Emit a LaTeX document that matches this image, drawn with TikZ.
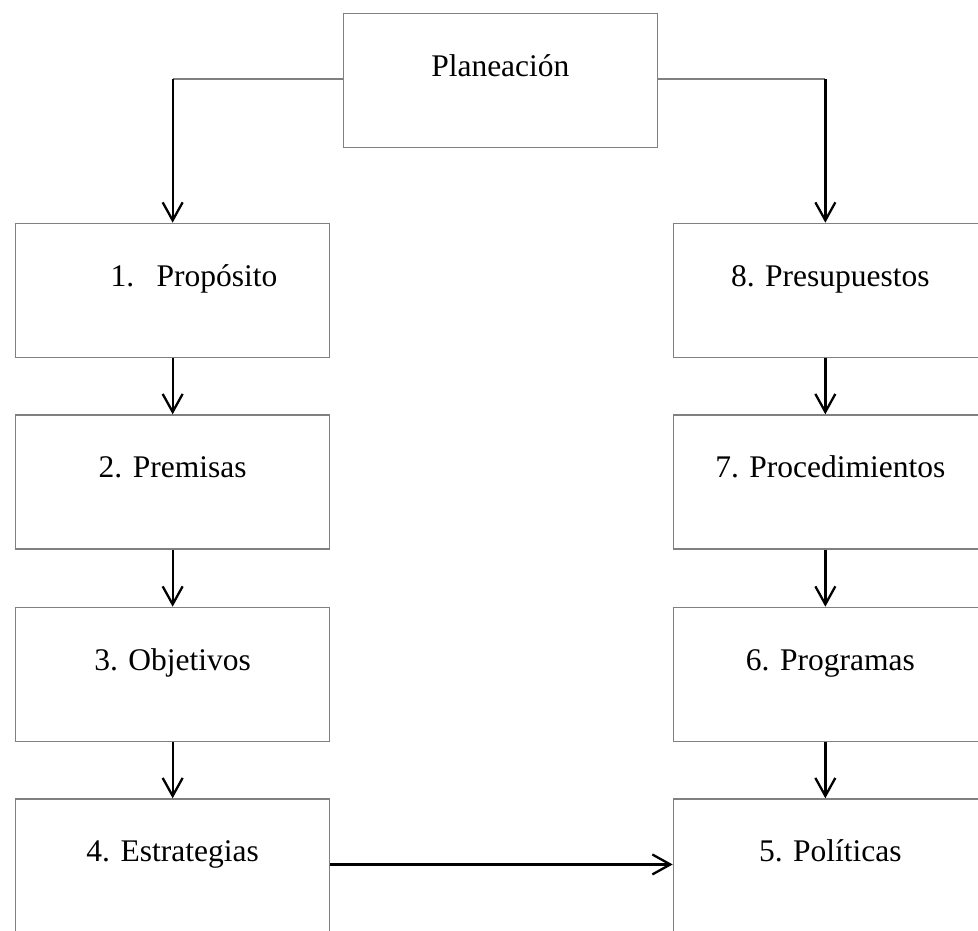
\documentclass[tikz,border=0pt]{standalone}
\usepackage{fontspec}
\setmainfont{Liberation Serif}
\usetikzlibrary{arrows.meta}
\begin{document}
\begin{tikzpicture}[x=1pt,y=-1pt,
  stepbox/.style={draw=black!50, line width=1.3pt, rectangle, inner sep=0pt,
    minimum width=314pt, text height=63pt, text depth=71pt,
    font=\fontsize{31.5}{36}\selectfont, anchor=north west},
  link/.style={draw=black!50, line width=1.3pt},
  arr/.style={draw=black, line width=2.3pt,
    -{Straight Barb[length=18pt,width=20pt,line width=2.3pt]}}]
\clip (0,0) rectangle (978,931);
\useasboundingbox (0,0) rectangle (978,931);

% top box
\node[stepbox] (plan) at (342.7,12.7) {Planeación};

% left column
\node[stepbox] (b1) at (15,222.7) {\hspace*{42.8pt}\makebox[46pt][l]{1.}Propósito};
\node[stepbox] (b2) at (15,414.3) {2. Premisas};
\node[stepbox] (b3) at (15,606.7) {3. Objetivos};
\node[stepbox] (b4) at (15,798.3) {4. Estrategias};

% right column
\node[stepbox] (b8) at (672.7,222.7) {8. Presupuestos};
\node[stepbox] (b7) at (672.7,414.3) {7. Procedimientos};
\node[stepbox] (b6) at (672.7,606.7) {6. Programas};
\node[stepbox] (b5) at (672.7,798.3) {5. Políticas};

% elbow connectors from the top box
\coordinate (cl) at ([yshift=1.3pt]plan.west -| b1.north);
\coordinate (cr) at ([yshift=1.3pt,xshift=-5pt]plan.east -| b8.north);
\draw[link] ([yshift=1.3pt]plan.west) -- (cl);
\draw[arr] (cl) -- (b1.north);
\draw[link] ([yshift=1.3pt]plan.east) -- (cr);
\draw[arr] (cr) -- ([xshift=-5pt]b8.north);

% left chain
\draw[arr] (b1.south) -- (b2.north);
\draw[arr] (b2.south) -- (b3.north);
\draw[arr] (b3.south) -- (b4.north);

% bottom link
\draw[arr] ([yshift=1.5pt]b4.east) -- ([yshift=1.5pt]b5.west);

% right chain
\draw[arr] ([xshift=-5pt]b8.south) -- ([xshift=-5pt]b7.north);
\draw[arr] ([xshift=-5pt]b7.south) -- ([xshift=-5pt]b6.north);
\draw[arr] ([xshift=-5pt]b6.south) -- ([xshift=-5pt]b5.north);
\end{tikzpicture}
\end{document}
